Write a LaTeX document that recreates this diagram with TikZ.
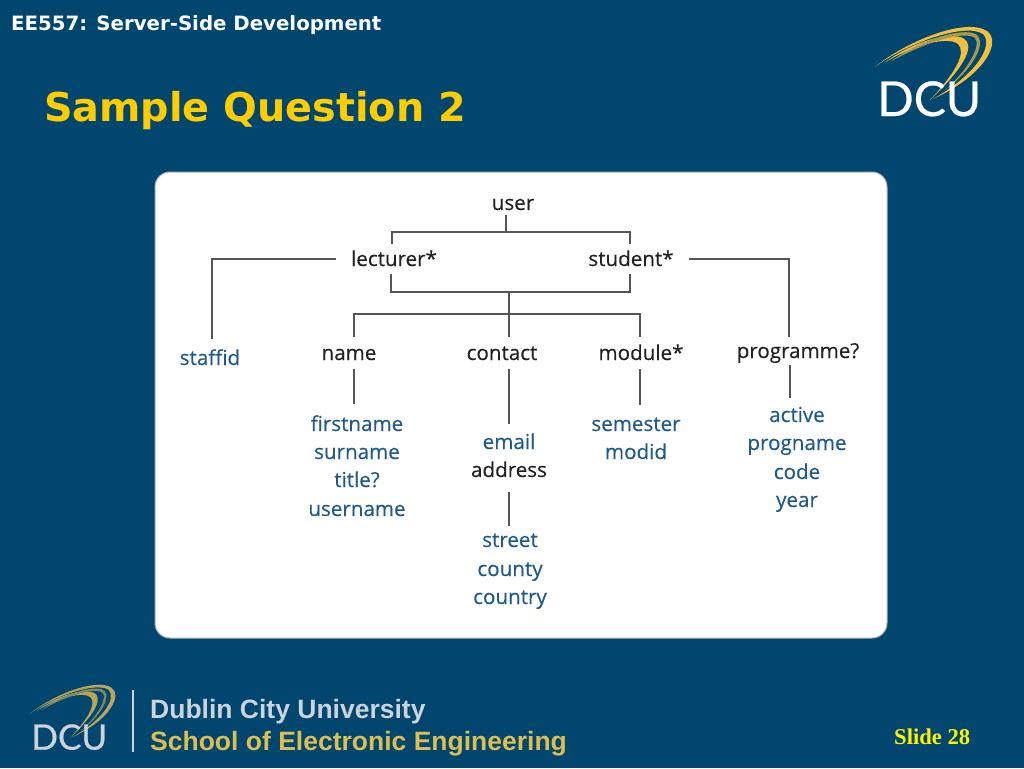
\documentclass[tikz,border=0pt]{standalone}
\usepackage{fontspec}
\setmainfont{Open Sans}[FakeBold=0.3]
\newfontfamily\headfont{DejaVu Sans}
\newfontfamily\footfont{Liberation Sans}
\newfontfamily\slidefont{Liberation Serif}
\newfontfamily\logofont{Lato}[FakeBold=0.5]
\definecolor{bgblue}{HTML}{00466F}
\definecolor{titlegold}{HTML}{FFCC00}
\definecolor{swoosh}{HTML}{F2BE3C}
\definecolor{swooshdim}{HTML}{B9A65A}
\definecolor{inkblue}{HTML}{1F5A8C}
\definecolor{ink}{HTML}{222222}
\definecolor{rule}{HTML}{555555}
\definecolor{footgrey}{HTML}{CBD3DC}
\definecolor{footgold}{HTML}{DDBE50}
\tikzset{
  lab/.style={anchor=base,inner xsep=15pt,inner ysep=#1,text height=15pt,text depth=1pt,font=\fontsize{20.6}{24}\selectfont},
  black lab/.style={lab=#1,text=ink},
  blue lab/.style={lab=#1,text=inkblue},
  conn/.style={draw=rule,line width=1.8pt},
}
\newcommand{\dculogo}[5]{%
  \begin{scope}[shift={(#1,#2)},scale=#3]
    \fill[#5] (875,67) .. controls (905,42) and (965,17) .. (987,31)
      .. controls (1002,42) and (985,75) .. (933,99)
      .. controls (977,74) and (994,45) .. (983,34)
      .. controls (965,22) and (905,44) .. cycle;
    \fill[#5] (884,63) .. controls (915,40) and (950,32) .. (963,38)
      .. controls (974,44) and (970,62) .. (930,100)
      .. controls (958,70) and (966,52) .. (958,44)
      .. controls (948,36) and (915,44) .. cycle;
    \fill[#5!70!bgblue] (890,62) .. controls (925,36) and (970,26) .. (978,36)
      .. controls (986,46) and (970,72) .. (945,90)
      .. controls (966,72) and (982,46) .. (975,38)
      .. controls (965,30) and (925,42) .. cycle;
    \node[anchor=base west,inner sep=0pt,text=#4,transform shape,font=\logofont\fontsize{48}{48}\selectfont] at (877,116) {DCU};
  \end{scope}}
\begin{document}
\begin{tikzpicture}[x=1pt,y=-1pt]
\useasboundingbox (0,0) rectangle (1024,768);
\fill[bgblue] (0,0) rectangle (1024,768);
\node[anchor=base west,inner sep=0pt,text=white,font=\headfont\bfseries\fontsize{19.75}{23}\selectfont] (head) at (11,31) {EE557: Server-Side Development};
\node[anchor=base west,inner sep=0pt,text=titlegold,font=\headfont\bfseries\fontsize{39.7}{44}\selectfont] (title) at (44,121) {Sample Question 2};
\dculogo{0}{0}{1}{white}{swoosh}
\filldraw[fill=white,draw=black!30,line width=1pt,rounded corners=15pt] (155,172) rectangle (887,638);

\node[black lab=4pt] (user) at (513,210) {user};
\node[black lab=7pt] (lecturer) at (394,266) {lecturer*};
\node[black lab=7pt] (student) at (631,266) {student*};
\node[blue lab=11pt] (staffid) at (210,365) {staffid};
\node[black lab=8pt] (name) at (349,360) {name};
\node[black lab=8pt] (contact) at (502,360) {contact};
\node[black lab=8pt] (module) at (641,360) {module*};
\node[black lab=6pt] (programme) at (798,358) {programme?};
\node[blue lab=12pt] (firstname) at (357,431) {firstname};
\node[blue lab=1pt] (surname) at (357,459) {surname};
\node[blue lab=1pt] (titlef) at (357,487) {title?};
\node[blue lab=1pt] (username) at (357,516) {username};
\node[blue lab=10pt] (email) at (509,449) {email};
\node[black lab=14pt] (address) at (509,477) {address};
\node[blue lab=6pt] (street) at (510,547) {street};
\node[blue lab=1pt] (county) at (510,576) {county};
\node[blue lab=1pt] (country) at (510,604) {country};
\node[blue lab=11pt] (semester) at (636,431) {semester};
\node[blue lab=1pt] (modid) at (636,459) {modid};
\node[blue lab=9pt] (active) at (797,422) {active};
\node[blue lab=1pt] (progname) at (797,450) {progname};
\node[blue lab=1pt] (code) at (797,479) {code};
\node[blue lab=1pt] (year) at (797,507) {year};

\coordinate (busA) at (506,232);
\coordinate (busAl) at (392,232);
\coordinate (busAr) at (630,232);
\coordinate (busB) at (509,292);
\coordinate (busBl) at (391,292);
\coordinate (busBr) at (630,292);
\coordinate (busC) at (509,314);
\coordinate (busCl) at (354,314);
\coordinate (busCr) at (640,314);
\coordinate (leftDrop) at (212,260);
\coordinate (rightDrop) at (789,260);
\coordinate (progDrop) at (790,360);
\coordinate (addrDrop) at (509,500);

\draw[conn] (user.south -| busA) -- (busA);
\draw[conn] (lecturer.north -| busAl) -- (busAl) -- (busAr) -- (student.north -| busAr);
\draw[conn] (lecturer.south -| busBl) -- (busBl) -- (busBr) -- (student.south -| busBr);
\draw[conn] (busB) -- (contact.north -| busB);
\draw[conn] (name.north -| busCl) -- (busCl) -- (busCr) -- (module.north -| busCr);
\draw[conn] (lecturer.west) -| (staffid.north -| leftDrop);
\draw[conn] (student.east) -| (programme.north -| rightDrop);
\draw[conn] (name.south -| busCl) -- (firstname.north -| busCl);
\draw[conn] (contact.south -| busC) -- (email.north -| busC);
\draw[conn] (module.south -| busCr) -- (semester.north -| busCr);
\draw[conn] (programme.south -| progDrop) -- (active.north -| progDrop);
\draw[conn] (address.south -| addrDrop) -- (street.north -| addrDrop);

\dculogo{-609}{665}{0.73}{footgrey}{swooshdim}
\draw[footgrey,line width=1.5pt] (133,690) -- (133,752);
\node[anchor=base west,inner sep=0pt,text=footgrey,font=\footfont\bfseries\fontsize{26.5}{30}\selectfont] (dublin) at (150,718) {Dublin City University};
\node[anchor=base west,inner sep=0pt,text=footgold,font=\footfont\bfseries\fontsize{26.5}{30}\selectfont] (school) at (150,750) {School of Electronic Engineering};
\node[anchor=base west,inner sep=0pt,text=yellow,font=\slidefont\bfseries\fontsize{22.6}{26}\selectfont] (slide) at (894,744) {Slide 28};
\end{tikzpicture}
\end{document}
